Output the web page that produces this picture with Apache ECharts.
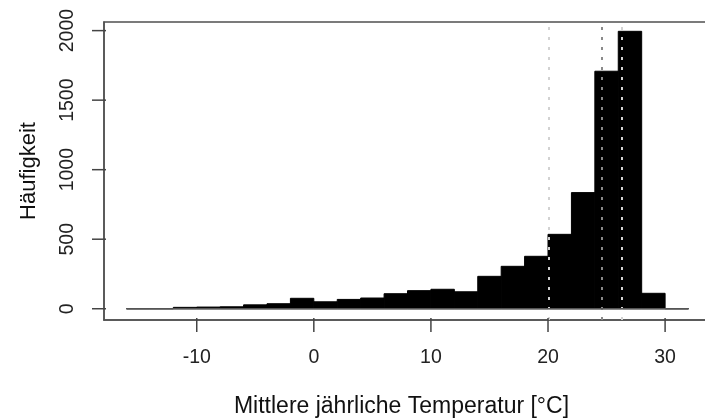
<!DOCTYPE html>
<html>
<head>
<meta charset="utf-8">
<script src="https://cdn.jsdelivr.net/npm/echarts@6/dist/echarts.min.js"></script>
<style>
html,body{margin:0;padding:0;background:#fff;}
#chart{width:705px;height:419px;}
</style>
</head>
<body>
<div id="chart"></div>
<script>
// Histogram bin edges (°C) and counts per bin
const binEdges = [-16,-14,-12,-10,-8,-6,-4,-2,0,2,4,6,8,10,12,14,16,18,20,22,24,26,28,30,32];
const counts   = [0,0,10,12,14,28,36,75,50,67,77,108,130,140,122,233,305,377,535,835,1708,1995,111,0];
// Reference lines (°C)
const refLines = [20.1, 24.55, 26.3];
const refColors = ['#d2d2d2', '#8a8a8a', '#d2d2d2'];
// Tick labels
const xTicks = [-10, 0, 10, 20, 30];
const yTicks = [0, 500, 1000, 1500, 2000];
// Axis ranges (R-style 4% padding)
const xRange = [-17.92, 33.92];
const yRange = [-81, 2062];

const font = '"Liberation Sans", Arial, sans-serif';
const histData = counts.map((c, i) => [binEdges[i], binEdges[i + 1], c]);
const TICK = 12;
const INSET = 2;

const chart = echarts.init(document.getElementById('chart'), null, {renderer: 'canvas'});
chart.setOption({
  animation: false,
  backgroundColor: '#fff',
  grid: {left: 104, top: 22, width: 607, height: 298, show: true,
         outerBoundsMode: 'none', containLabel: false,
         borderColor: '#505050', borderWidth: 1.5, backgroundColor: 'transparent'},
  xAxis: {
    type: 'value', min: xRange[0], max: xRange[1],
    name: 'Mittlere jährliche Temperatur [°C]', nameLocation: 'middle', nameGap: 75,
    nameTextStyle: {fontFamily: font, fontSize: 23, color: '#111', padding: [0, 12, 0, 0]},
    axisLine: {show: true, onZero: false, lineStyle: {color: '#505050', width: 1.5}},
    splitLine: {show: false},
    axisTick: {show: false},
    axisLabel: {customValues: xTicks, fontFamily: font, fontSize: 19.5, color: '#222', margin: 28,
                formatter: v => String(v)}
  },
  yAxis: {
    type: 'value', min: yRange[0], max: yRange[1],
    name: 'Häufigkeit', nameLocation: 'middle', nameGap: 64, nameRotate: 90,
    nameTextStyle: {fontFamily: font, fontSize: 22, color: '#111'},
    axisLine: {show: true, onZero: false, lineStyle: {color: '#505050', width: 1.5}},
    splitLine: {show: false},
    axisTick: {show: false},
    axisLabel: {customValues: yTicks, rotate: 90, fontFamily: font, fontSize: 19.5, color: '#222', margin: 26,
                formatter: v => String(v)}
  },
  series: [
    {
      type: 'custom', z: 2, silent: true,
      encode: {x: [0, 1], y: 2},
      data: histData,
      renderItem: function (params, api) {
        const p0 = api.coord([api.value(0), api.value(2)]);
        const p1 = api.coord([api.value(1), 0]);
        return {type: 'rect',
          shape: {x: p0[0], y: p0[1], width: p1[0] - p0[0], height: p1[1] - p0[1]},
          style: {fill: '#000', stroke: '#000', lineWidth: 1}};
      }
    },
    {
      type: 'line', z: 5, silent: true, symbol: 'none',
      data: [[binEdges[0], 0], [binEdges[binEdges.length - 1], 0]],
      lineStyle: {color: '#555', width: 1.5},
      markLine: {silent: true, symbol: 'none', label: {show: false},
        data: refLines.map((v, i) => ({xAxis: v, lineStyle: {color: refColors[i], width: 2, type: [3, 7]}}))}
    },
    {
      // x-axis tick marks (below the plot box, starting just inside the frame)
      type: 'custom', z: 6, silent: true, clip: false,
      encode: {x: 0, y: 1},
      data: xTicks.map(v => [v, 0]),
      renderItem: function (params, api) {
        const p = api.coord([api.value(0), yRange[0]]);
        return {type: 'line', shape: {x1: p[0], y1: p[1] - INSET, x2: p[0], y2: p[1] + TICK},
                style: {stroke: '#444', lineWidth: 1.5}};
      }
    },
    {
      // y-axis tick marks (left of the plot box, starting just inside the frame)
      type: 'custom', z: 6, silent: true, clip: false,
      encode: {x: 0, y: 1},
      data: yTicks.map(v => [0, v]),
      renderItem: function (params, api) {
        const p = api.coord([xRange[0], api.value(1)]);
        return {type: 'line', shape: {x1: p[0] + INSET, y1: p[1], x2: p[0] - TICK, y2: p[1]},
                style: {stroke: '#444', lineWidth: 1.5}};
      }
    }
  ]
});
</script>
</body>
</html>
